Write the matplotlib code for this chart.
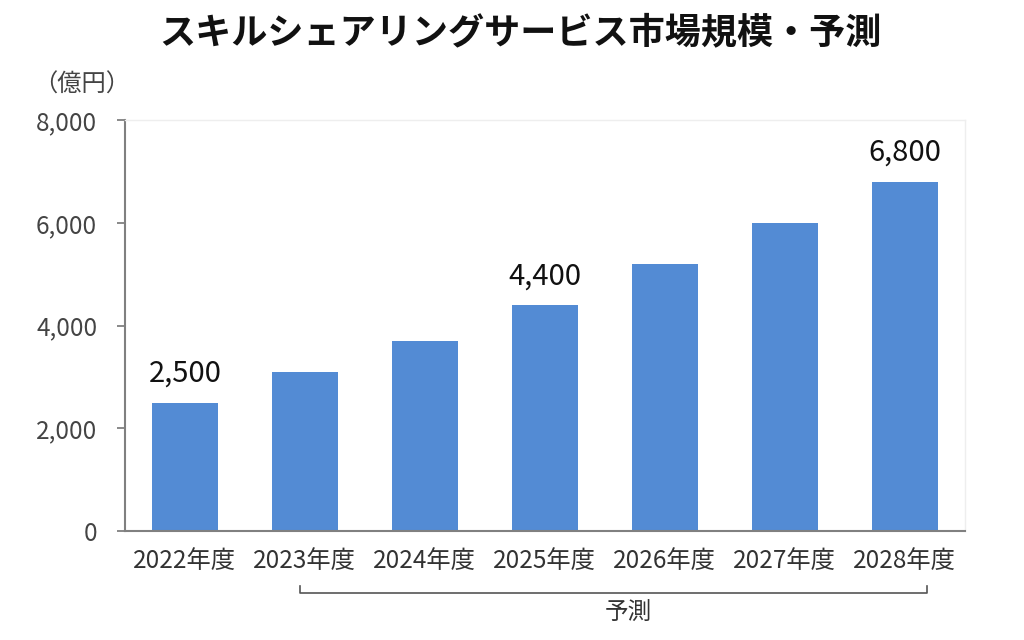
import matplotlib.pyplot as plt
import matplotlib.transforms as mtransforms

plt.rcParams['font.family'] = ['Noto Sans CJK JP', 'DejaVu Sans']

# data
years = ['2022年度', '2023年度', '2024年度', '2025年度', '2026年度', '2027年度', '2028年度']
market = [2500, 3100, 3700, 4400, 5200, 6000, 6800]
labelled = {0: '2,500', 3: '4,400', 6: '6,800'}
yticks = [0, 2000, 4000, 6000, 8000]

fig = plt.figure(figsize=(10.24, 6.4), dpi=100)
ax = fig.add_axes([0.122, 0.170, 0.820, 0.642])

x = range(len(years))
ax.bar(x, market, width=0.55, color='#538BD4', zorder=2)

for i, txt in labelled.items():
    ax.annotate(txt, (i, market[i]), xytext=(0, 10), textcoords='offset points',
                ha='center', va='bottom', fontsize=21, color='#111111')

ax.set_xlim(-0.5, len(years) - 0.5)
ax.set_ylim(0, 8000)
ax.set_yticks(yticks)
ax.set_yticklabels([f'{v:,}' for v in yticks], fontsize=17.5, color='#444444')
ax.set_xticks(list(x))
ax.set_xticklabels(years, fontsize=17.5, color='#333333')
ax.tick_params(axis='x', length=0, pad=12)
ax.tick_params(axis='y', length=6, width=1.3, color='#808080', pad=14, direction='out')

for s in ['left', 'bottom']:
    ax.spines[s].set_color('#808080')
    ax.spines[s].set_linewidth(1.5)
for s in ['top', 'right']:
    ax.spines[s].set_color('#eeeeee')
    ax.spines[s].set_linewidth(1.0)

# bracket for forecast years
trans = mtransforms.blended_transform_factory(ax.transData, ax.transAxes)
ax.plot([0.96, 0.96, 6.19, 6.19], [-0.134, -0.151, -0.151, -0.134],
        color='#555555', lw=1.2, transform=trans, clip_on=False)
ax.text(3.7, -0.2, '予測', transform=trans, ha='center', va='center',
        fontsize=17, color='#333333')

fig.text(0.508, 0.948, 'スキルシェアリングサービス市場規模・予測', ha='center', va='center',
         fontsize=26, fontweight='bold', color='#111111')
fig.text(0.08, 0.867, '（億円）', ha='center', va='center', fontsize=17.5, color='#444444')

fig.savefig('out.png', dpi=100)
